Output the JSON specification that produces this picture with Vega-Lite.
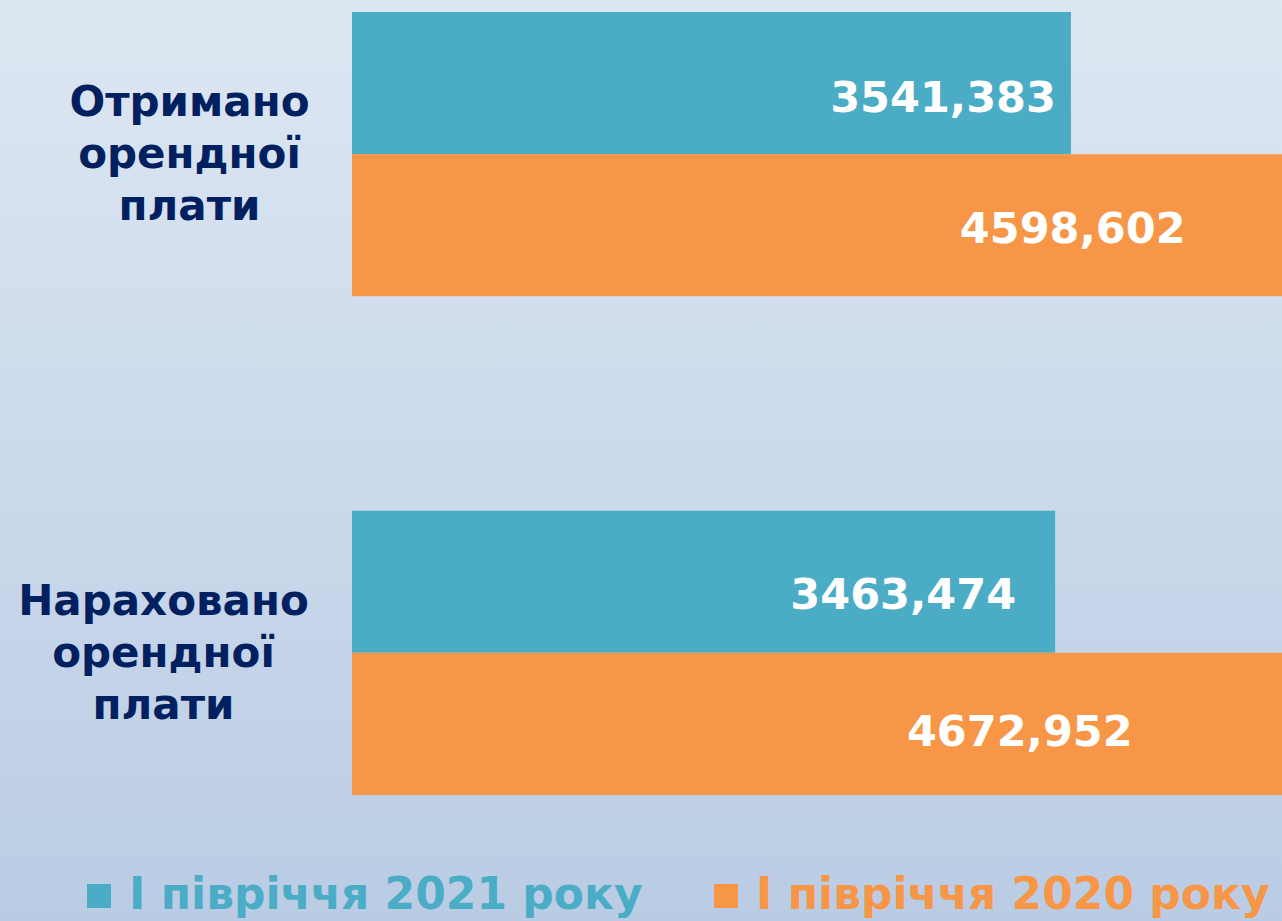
{
  "$schema": "https://vega.github.io/schema/vega-lite/v6.json",
  "width": 1282,
  "height": 921,
  "autosize": {"type": "none"},
  "padding": 0,
  "background": "#cddaeb",
  "config": {
    "font": "DejaVu Sans",
    "view": {
      "stroke": null,
      "fill": {
        "gradient": "linear",
        "x1": 0, "y1": 0, "x2": 0, "y2": 1,
        "stops": [
          {"offset": 0, "color": "#dde7f2"},
          {"offset": 1, "color": "#bacce4"}
        ]
      }
    },
    "locale": {
      "number": {"decimal": ",", "thousands": "", "grouping": [3], "currency": ["", ""]}
    }
  },
  "data": {
    "values": [
      {"category": "Отримано орендної плати", "series": "І півріччя 2021 року", "value": 3541.383},
      {"category": "Отримано орендної плати", "series": "І півріччя 2020 року", "value": 4598.602},
      {"category": "Нараховано орендної плати", "series": "І півріччя 2021 року", "value": 3463.474},
      {"category": "Нараховано орендної плати", "series": "І півріччя 2020 року", "value": 4672.952}
    ]
  },
  "encoding": {
    "y": {
      "field": "category",
      "type": "nominal",
      "sort": ["Отримано орендної плати", "Нараховано орендної плати"],
      "scale": {"range": [12, 795], "paddingInner": 0.43, "paddingOuter": 0},
      "axis": {
        "title": null,
        "domain": false,
        "ticks": false,
        "grid": false,
        "labelExpr": "split(datum.label, ' ')",
        "labelAlign": "center",
        "labelBaseline": "middle",
        "labelFontSize": 42,
        "labelFontWeight": "bold",
        "labelColor": "#002060",
        "labelLineHeight": 52,
        "labelLimit": 0,
        "labelOverlap": false,
        "labelOffset": -51,
        "labelPadding": {"condition": {"test": "datum.value == 'Отримано орендної плати'", "value": -189}, "value": -163}
      }
    },
    "yOffset": {
      "field": "series",
      "type": "nominal",
      "sort": ["І півріччя 2021 року", "І півріччя 2020 року"]
    },
    "x": {
      "field": "value",
      "type": "quantitative",
      "scale": {"domain": [0, 4581], "range": [352, 1282], "zero": true, "nice": false},
      "axis": null
    }
  },
  "layer": [
    {
      "mark": {"type": "bar", "clip": true},
      "encoding": {
        "color": {
          "field": "series",
          "type": "nominal",
          "scale": {
            "domain": ["І півріччя 2021 року", "І півріччя 2020 року"],
            "range": ["#4BACC6", "#F79646"]
          },
          "legend": {
            "title": null,
            "orient": "none",
            "legendX": 77,
            "legendY": 874,
            "direction": "horizontal",
            "symbolType": "square",
            "symbolSize": 576,
            "symbolStrokeWidth": 0,
            "labelFontSize": 44,
            "labelFontWeight": "bold",
            "labelColor": {"expr": "datum.value == 'І півріччя 2021 року' ? '#4BACC6' : '#F79646'"},
            "labelOffset": 8,
            "labelLimit": 0,
            "columnPadding": 61
          }
        }
      }
    },
    {
      "transform": [{"filter": "datum.category == 'Отримано орендної плати' && datum.series == 'І півріччя 2021 року'"}],
      "mark": {"type": "text", "align": "right", "baseline": "middle", "dx": -15, "dy": 16, "fontSize": 43, "fontWeight": "bold", "color": "white"},
      "encoding": {"text": {"field": "value", "type": "quantitative", "format": ".3f"}}
    },
    {
      "transform": [{"filter": "datum.category == 'Отримано орендної плати' && datum.series == 'І півріччя 2020 року'"}],
      "mark": {"type": "text", "align": "right", "baseline": "middle", "dx": -100, "dy": 5, "fontSize": 43, "fontWeight": "bold", "color": "white"},
      "encoding": {"text": {"field": "value", "type": "quantitative", "format": ".3f"}}
    },
    {
      "transform": [{"filter": "datum.category == 'Нараховано орендної плати' && datum.series == 'І півріччя 2021 року'"}],
      "mark": {"type": "text", "align": "right", "baseline": "middle", "dx": -39, "dy": 14, "fontSize": 43, "fontWeight": "bold", "color": "white"},
      "encoding": {"text": {"field": "value", "type": "quantitative", "format": ".3f"}}
    },
    {
      "transform": [{"filter": "datum.category == 'Нараховано орендної плати' && datum.series == 'І півріччя 2020 року'"}],
      "mark": {"type": "text", "align": "right", "baseline": "middle", "dx": -168, "dy": 9, "fontSize": 43, "fontWeight": "bold", "color": "white"},
      "encoding": {"text": {"field": "value", "type": "quantitative", "format": ".3f"}}
    }
  ]
}
